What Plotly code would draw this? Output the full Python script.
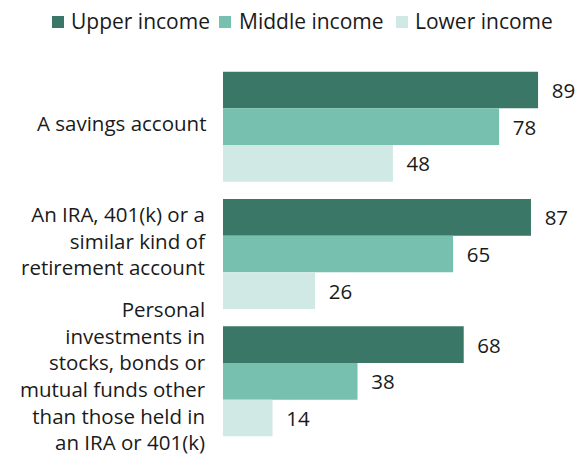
import plotly.graph_objects as go

# ---- data ----
categories = ["A savings account",
              "An IRA, 401(k) or a similar kind of retirement account",
              "Personal investments in stocks, bonds or mutual funds other than those held in an IRA or 401(k)"]
tick_labels = ["A savings account",
               "An IRA, 401(k) or a<br>similar kind of<br>retirement account",
               "Personal<br>investments in<br>stocks, bonds or<br>mutual funds other<br>than those held in<br>an IRA or 401(k)"]
series_names = ["Upper income", "Middle income", "Lower income"]
upper = [89, 87, 68]
middle = [78, 65, 38]
lower = [48, 26, 14]

colors = ["#3a7767", "#77bfae", "#d1e9e4"]
FONT = "Open Sans"
label_yshift = [4, 14, 6]   # layout: vertical nudge of the category labels (px)

fig = go.Figure()
for name, vals, col in zip(series_names, [upper, middle, lower], colors):
    fig.add_trace(go.Bar(
        y=categories, x=vals, name=name, orientation="h",
        marker=dict(color=col, line=dict(width=0)),
        text=vals, texttemplate="\u00a0\u00a0%{x}", textposition="outside",
        textfont=dict(family=FONT, size=20.5, color="#1a1a1a"),
        constraintext="none", cliponaxis=False, showlegend=False,
        hoverinfo="skip",
    ))

# plot-area geometry (pixels) used for the hand-drawn legend
L, T, W, H = 223, 63, 354, 382
def px(x):
    return (x - L) / W
def py(y):
    return (T + H - y) / H

shapes = []
annotations = []

# category labels
for cat, lab, ys in zip(categories, tick_labels, label_yshift):
    annotations.append(dict(xref="x", yref="y", x=0, y=cat, xanchor="right", yanchor="middle",
                            xshift=-15, yshift=ys, align="right", showarrow=False, text=lab,
                            font=dict(family=FONT, size=20.5, color="#1a1a1a")))

# legend
legend_items = [(52, 69), (219, 237), (396, 413)]
for (sx, tx), name, col in zip(legend_items, series_names, colors):
    shapes.append(dict(type="rect", xref="paper", yref="paper",
                       x0=px(sx), x1=px(sx + 12), y0=py(28), y1=py(16),
                       fillcolor=col, line=dict(width=0)))
    annotations.append(dict(xref="paper", yref="paper", x=px(tx), y=py(21),
                            xanchor="left", yanchor="middle", showarrow=False,
                            text=name, font=dict(family=FONT, size=21, color="#1a1a1a")))

fig.update_layout(
    width=587, height=455, autosize=False,
    margin=dict(l=L, r=587 - L - W, t=T, b=455 - T - H, pad=0, autoexpand=False),
    paper_bgcolor="white", plot_bgcolor="white",
    barmode="group", bargap=0.136, bargroupgap=0,
    font=dict(family=FONT, color="#1a1a1a"),
    xaxis=dict(range=[0, 100], visible=False, fixedrange=True, automargin=False),
    yaxis=dict(type="category", categoryorder="array", categoryarray=categories,
               range=[len(categories) - 0.5, -0.5], autorange=False,
               showgrid=False, zeroline=False, showline=False,
               ticks="", showticklabels=False, automargin=False, fixedrange=True),
    shapes=shapes, annotations=annotations,
    showlegend=False,
)

fig.write_html("out.html", config={"displayModeBar": False},
               post_script="document.body.style.margin='0';document.body.style.overflow='hidden';")
